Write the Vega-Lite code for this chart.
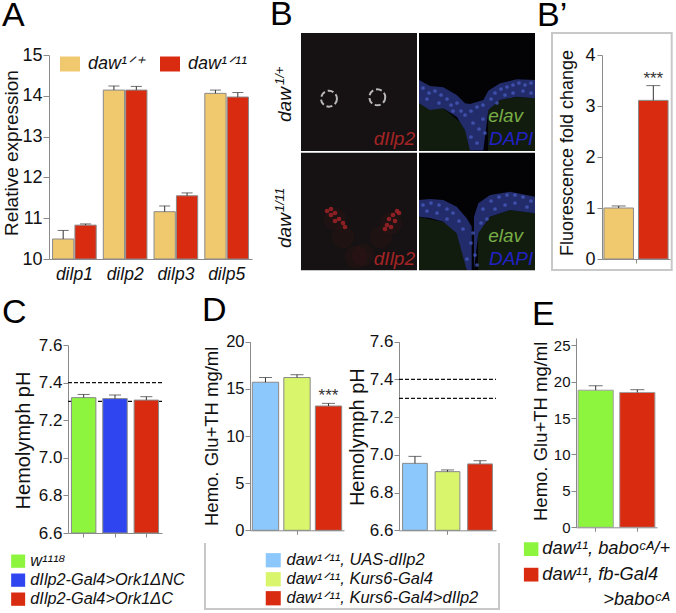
{
"$schema":"https://vega.github.io/schema/vega-lite/v6.json",
"autosize":{"type":"none"},
"padding":{"left":49,"top":33,"right":627,"bottom":580},
"background":"white",
"config":{"font":"Liberation Sans","view":{"stroke":null},
"axis":{"grid":false,"labelOverlap":false,"domainColor":"#8a8a8a","tickColor":"#8a8a8a","labelColor":"#111111","titleColor":"#111111","titleFontWeight":"normal","labelFont":"Liberation Sans","titleFont":"Liberation Sans","titleAngle":270,"titleAlign":"center","titleBaseline":"middle"},
"title":{"anchor":"start","frame":"group","fontSize":34,"fontWeight":"normal","font":"Liberation Sans","color":"#000000"},
"legend":{"orient":"none","title":null,"padding":0,"labelFont":"Liberation Sans","labelFontStyle":"italic","labelColor":"#111111","symbolStrokeWidth":0}},
"bounds":"flush","spacing":0,"align":"none","columns":4,
"resolve":{"scale":{"color":"independent","xOffset":"independent"},"legend":{"color":"independent"}},
"concat":[
{"title":{"text":"A","dx":-47,"offset":0},"width":201,"height":305,
"data":{"values":[
{"gene":"dilp1","genotype":"daw¹ᐟ⁺","value":10.49,"err":10.70},{"gene":"dilp1","genotype":"daw¹ᐟ¹¹","value":10.83,"err":10.86},
{"gene":"dilp2","genotype":"daw¹ᐟ⁺","value":14.14,"err":14.24},{"gene":"dilp2","genotype":"daw¹ᐟ¹¹","value":14.14,"err":14.23},
{"gene":"dilp3","genotype":"daw¹ᐟ⁺","value":11.16,"err":11.30},{"gene":"dilp3","genotype":"daw¹ᐟ¹¹","value":11.55,"err":11.62},
{"gene":"dilp5","genotype":"daw¹ᐟ⁺","value":14.06,"err":14.14},{"gene":"dilp5","genotype":"daw¹ᐟ¹¹","value":13.97,"err":14.08}]},
"encoding":{"x":{"field":"gene","type":"nominal","scale":{"domain":["dilp1","dilp2","dilp3","dilp5"],"range":[0,203],"paddingInner":0.14,"paddingOuter":0.07},"axis":{"title":null,"offset":-79,"ticks":false,"labelAngle":0,"labelFontSize":17.5,"labelFontStyle":"italic","labelPadding":6}},
"xOffset":{"field":"genotype","scale":{"domain":["daw¹ᐟ⁺","daw¹ᐟ¹¹"],"paddingInner":0.05}}},
"layer":[
{"mark":{"type":"bar","stroke":"#8a8a8a","strokeWidth":1},"encoding":{"y":{"field":"value","type":"quantitative","scale":{"domain":[10,15],"range":[226,22]},"axis":{"values":[10,11,12,13,14,15],"tickCount":10,"format":"d","title":"Relative expression","titleFontSize":19,"labelFontSize":18,"tickSize":6,"titleX":-38,"titleY":119.5,"labelPadding":1}},"y2":{"datum":10},
"color":{"field":"genotype","type":"nominal","scale":{"domain":["daw¹ᐟ⁺","daw¹ᐟ¹¹"],"range":["#F0C86E","#D92B10"]},"legend":{"legendX":11,"legendY":21,"direction":"horizontal","columns":2,"columnPadding":14,"symbolType":"M-1,-0.75H1V0.75H-1Z","symbolSize":400,"labelFontSize":18,"labelOffset":8}}}},
{"mark":{"type":"rule","color":"#333333"},"encoding":{"y":{"field":"value","type":"quantitative"},"y2":{"field":"err"}}},
{"mark":{"type":"tick","color":"#333333","size":11,"thickness":1},"encoding":{"y":{"field":"err","type":"quantitative"}}}
]},
{"title":{"text":"B","dx":20,"offset":0},"width":149,"height":305,
"encoding":{"x":{"field":"x","type":"quantitative","scale":{"domain":[-51,98],"range":[0,149]},"axis":null},"y":{"field":"y","type":"quantitative","scale":{"domain":[0,305],"range":[0,305]},"axis":null}},
"layer":[
{"data":{"values":[{"x":0,"x2":116,"y":0,"y2":118},{"x":0,"x2":116,"y":119.7,"y2":237.3}]},"mark":{"type":"rect","color":"#161213"},"encoding":{"x2":{"field":"x2"},"y2":{"field":"y2"}}},
{"data":{"values":[{"x":118,"x2":234,"y":0,"y2":118},{"x":118,"x2":234,"y":119.7,"y2":237.3}]},"mark":{"type":"rect","color":"#030306"},"encoding":{"x2":{"field":"x2"},"y2":{"field":"y2"}}},
{"data":{"values":[{"r":"a","x":118,"y":70,"y2":118},{"r":"a","x":142,"y":75,"y2":118},{"r":"a","x":160,"y":90,"y2":118},{"r":"a","x":169,"y":100,"y2":118},
{"r":"b","x":187,"y":77,"y2":118},{"r":"b","x":199,"y":67,"y2":118},{"r":"b","x":216,"y":64,"y2":118},{"r":"b","x":234,"y":65,"y2":118},
{"r":"c","x":118,"y":184,"y2":237},{"r":"c","x":142,"y":189,"y2":237},{"r":"c","x":165,"y":200,"y2":237},
{"r":"d","x":177,"y":200,"y2":237},{"r":"d","x":189,"y":184,"y2":237},{"r":"d","x":209,"y":177,"y2":237},{"r":"d","x":234,"y":180,"y2":237}]},
"mark":{"type":"area","color":"#111c0e"},"encoding":{"detail":{"field":"r"},"y2":{"field":"y2"}}},
{"data":{"values":[{"r":"a","x":118,"y":47,"y2":70.3},{"r":"a","x":129,"y":53,"y2":77},{"r":"a","x":142.3,"y":54.3,"y2":75.3},{"r":"a","x":155.7,"y":62,"y2":83.7},{"r":"a","x":164,"y":70.3,"y2":97},{"r":"a","x":169,"y":71,"y2":117.5},{"r":"a","x":182.3,"y":67,"y2":117.5},{"r":"a","x":187.3,"y":57.7,"y2":77},{"r":"a","x":199,"y":50.3,"y2":67},{"r":"a","x":215.7,"y":46.3,"y2":63.7},{"r":"a","x":234,"y":47,"y2":65.3},
{"r":"c","x":118,"y":167,"y2":183.7},{"r":"c","x":129,"y":166,"y2":185},{"r":"c","x":142.3,"y":167,"y2":188.7},{"r":"c","x":155.7,"y":173.7,"y2":200.3},{"r":"c","x":165.7,"y":185.3,"y2":237},{"r":"c","x":170.7,"y":193.7,"y2":237},
{"r":"d","x":173,"y":183.7,"y2":237},{"r":"d","x":177.3,"y":170.3,"y2":200.3},{"r":"d","x":189,"y":162,"y2":183.7},{"r":"d","x":209,"y":158.7,"y2":177},{"r":"d","x":234,"y":163.7,"y2":180.3}]},
"mark":{"type":"area","color":"#222c6a"},"encoding":{"detail":{"field":"r"},"y2":{"field":"y2"}}},
{"data":{"values":[{"x":122,"y":55},{"x":128,"y":60},{"x":134,"y":58},{"x":126,"y":66},{"x":140,"y":62},{"x":146,"y":66},{"x":138,"y":70},{"x":150,"y":72},{"x":156,"y":70},{"x":160,"y":78},{"x":152,"y":78},{"x":164,"y":82},{"x":170,"y":78},{"x":176,"y":74},{"x":182,"y":72},{"x":172,"y":90},{"x":178,"y":96},{"x":170,"y":104},{"x":176,"y":110},{"x":184,"y":100},{"x":182,"y":86},{"x":190,"y":66},{"x":194,"y":60},{"x":200,"y":56},{"x":206,"y":54},{"x":212,"y":52},{"x":218,"y":50},{"x":224,"y":52},{"x":230,"y":50},{"x":204,"y":62},{"x":212,"y":60},{"x":222,"y":58},{"x":230,"y":60},{"x":196,"y":70},
{"x":122,"y":172},{"x":130,"y":170},{"x":138,"y":172},{"x":126,"y":178},{"x":136,"y":180},{"x":146,"y":176},{"x":152,"y":180},{"x":146,"y":186},{"x":158,"y":188},{"x":162,"y":196},{"x":170,"y":210},{"x":174,"y":222},{"x":166,"y":226},{"x":176,"y":232},{"x":172,"y":200},{"x":182,"y":176},{"x":190,"y":168},{"x":198,"y":164},{"x":206,"y":162},{"x":214,"y":162},{"x":222,"y":164},{"x":230,"y":168},{"x":194,"y":176},{"x":204,"y":172},{"x":214,"y":170},{"x":226,"y":174},{"x":186,"y":186},{"x":180,"y":190}]},
"mark":{"type":"circle","color":"#4b5fc8","size":14,"opacity":0.7}},
{"data":{"values":[{"x":34,"y":186},{"x":90,"y":190},{"x":42,"y":204},{"x":80,"y":204},{"x":55,"y":224},{"x":62,"y":222}]},"mark":{"type":"circle","color":"#b01c1c","size":500,"opacity":0.06}},
{"data":{"values":[{"x":26,"y":178},{"x":30,"y":182},{"x":34,"y":180},{"x":38,"y":186},{"x":34,"y":188},{"x":42,"y":190},{"x":30,"y":176},{"x":44,"y":194},{"x":96,"y":178},{"x":92,"y":182},{"x":88,"y":186},{"x":94,"y":188},{"x":86,"y":192},{"x":84,"y":196},{"x":90,"y":194},{"x":98,"y":180}]},"mark":{"type":"circle","color":"#b0242a","size":22,"opacity":0.75}},
{"data":{"values":[{"x":28,"y":65.7},{"x":76.3,"y":64.3}]},"mark":{"type":"point","color":"#ffffff","size":254,"strokeWidth":2,"strokeDash":[6,3]}},
{"data":{"values":[{"x":114,"y":112,"t":"dIlp2"},{"x":114,"y":232,"t":"dIlp2"}]},"mark":{"type":"text","color":"#a52424","fontSize":19,"fontStyle":"italic","align":"right","baseline":"alphabetic"},"encoding":{"text":{"field":"t"}}},
{"data":{"values":[{"x":222,"y":88.7,"t":"elav"},{"x":222,"y":208.7,"t":"elav"}]},"mark":{"type":"text","color":"#79ad48","fontSize":19,"fontStyle":"italic","align":"right","baseline":"alphabetic"},"encoding":{"text":{"field":"t"}}},
{"data":{"values":[{"x":232.3,"y":112,"t":"DAPI"},{"x":232.3,"y":232,"t":"DAPI"}]},"mark":{"type":"text","color":"#2222c4","fontSize":19,"fontStyle":"italic","align":"right","baseline":"alphabetic"},"encoding":{"text":{"field":"t"}}},
{"data":{"values":[{"x":-10,"y":89,"t":"daw"},{"x":-10,"y":215,"t":"daw"}]},"mark":{"type":"text","color":"#111111","fontSize":19,"fontStyle":"italic","align":"left","baseline":"alphabetic","angle":270},"encoding":{"text":{"field":"t"}}},
{"data":{"values":[{"x":-17,"y":52,"t":"1/+"},{"x":-17,"y":179,"t":"1/11"}]},"mark":{"type":"text","color":"#111111","fontSize":13,"fontStyle":"italic","align":"left","baseline":"alphabetic","angle":270},"encoding":{"text":{"field":"t"}}},
{"data":{"values":[{"x":251,"x2":370.7,"y":0,"y2":237}]},"mark":{"type":"rect","fillOpacity":0,"stroke":"#c8c8c8","strokeWidth":2},"encoding":{"x2":{"field":"x2"},"y2":{"field":"y2"}}},
{"data":{"values":[{"i":1,"x":-96,"y":510},{"i":2,"x":-96,"y":576},{"i":3,"x":198,"y":576},{"i":4,"x":198,"y":510}]},"mark":{"type":"line","color":"#c8c8c8","strokeWidth":2},"encoding":{"order":{"field":"i"}}}
]},
{"width":177,"height":305,"data":{"values":[]},"mark":{"type":"point"},"encoding":{}},
{"title":{"text":"B’","dx":-39,"offset":0},"width":100,"height":305,
"data":{"values":[{"group":"g","sample":"daw¹ᐟ⁺","value":1.0,"err":1.04},{"group":"g","sample":"daw¹ᐟ¹¹","value":3.11,"err":3.40,"sig":"***"}]},
"encoding":{"x":{"field":"group","type":"nominal","scale":{"range":[26,94],"paddingInner":0,"paddingOuter":0.03},"axis":{"title":null,"offset":-79,"labels":false,"tickSize":4}},
"xOffset":{"field":"sample","scale":{"domain":["daw¹ᐟ⁺","daw¹ᐟ¹¹"],"paddingInner":0.147}}},
"layer":[
{"mark":{"type":"bar","stroke":"#8a8a8a","strokeWidth":1},"encoding":{"y":{"field":"value","type":"quantitative","scale":{"domain":[0,4],"range":[226,22]},"axis":{"values":[0,1,2,3,4],"tickCount":10,"format":"d","offset":-26,"title":"Fluorescence fold change","titleFontSize":18,"labelFontSize":18,"tickSize":5,"titleX":-35,"titleY":119.5,"labelPadding":2}},"y2":{"datum":0},
"color":{"field":"sample","type":"nominal","scale":{"domain":["daw¹ᐟ⁺","daw¹ᐟ¹¹"],"range":["#F0C86E","#D92B10"]},"legend":null}}},
{"mark":{"type":"rule","color":"#333333"},"encoding":{"y":{"field":"value","type":"quantitative"},"y2":{"field":"err"}}},
{"mark":{"type":"tick","color":"#333333","size":14,"thickness":1},"encoding":{"y":{"field":"err","type":"quantitative"}}},
{"transform":[{"filter":"datum.sig"}],"mark":{"type":"text","fontSize":17,"color":"#333333","dy":-7},"encoding":{"y":{"field":"err","type":"quantitative"},"text":{"field":"sig"}}}
]},
{"title":{"text":"C","dx":-47,"offset":6},"width":201,"height":195,
"layer":[
{"data":{"values":[{"level":7.4},{"level":7.3}]},"mark":{"type":"rule","color":"#111111","strokeDash":[4,2],"strokeWidth":1.2},"encoding":{"x":{"datum":0,"type":"quantitative","scale":{"domain":[0,1],"range":[19,114]},"axis":null},"x2":{"datum":1},"y":{"field":"level","type":"quantitative","scale":{"domain":[6.6,7.6],"range":[195,7]}}}},
{"data":{"values":[{"g":"w¹¹¹⁸","value":7.32,"err":7.337},{"g":"dIlp2-Gal4>Ork1ΔNC","value":7.315,"err":7.334},{"g":"dIlp2-Gal4>Ork1ΔC","value":7.307,"err":7.325}]},
"encoding":{"x":{"field":"g","type":"nominal","scale":{"domain":["w¹¹¹⁸","dIlp2-Gal4>Ork1ΔNC","dIlp2-Gal4>Ork1ΔC"],"range":[19,113],"paddingInner":0.22,"paddingOuter":0.11},"axis":{"title":null,"labels":false,"tickSize":4}}},
"layer":[
{"mark":{"type":"bar","stroke":"#8a8a8a","strokeWidth":1},"encoding":{"y":{"field":"value","type":"quantitative","scale":{"domain":[6.6,7.6],"range":[195,7]},"axis":{"values":[6.6,6.8,7.0,7.2,7.4,7.6],"tickCount":10,"format":".1f","offset":-19,"title":"Hemolymph pH","titleFontSize":20,"labelFontSize":17,"tickSize":5,"titleX":-45,"titleY":102,"labelPadding":1}},"y2":{"datum":6.6},
"color":{"field":"g","type":"nominal","scale":{"domain":["w¹¹¹⁸","dIlp2-Gal4>Ork1ΔNC","dIlp2-Gal4>Ork1ΔC"],"range":["#8EF53E","#2E45F0","#D92B10"]},"legend":{"legendX":-39,"legendY":215,"symbolType":"M-1,-0.95H1V0.95H-1Z","symbolSize":196,"labelFontSize":16.3,"labelOffset":4,"rowPadding":2,"labelLimit":300}}}},
{"mark":{"type":"rule","color":"#333333"},"encoding":{"y":{"field":"value","type":"quantitative"},"y2":{"field":"err"}}},
{"mark":{"type":"tick","color":"#333333","size":12,"thickness":1},"encoding":{"y":{"field":"err","type":"quantitative"}}}
]}
],"resolve":{"scale":{"x":"independent"}}},
{"title":{"text":"D","dx":-48,"offset":6},"width":149,"height":195,
"data":{"values":[{"group":"g","sample":"daw¹ᐟ¹¹, UAS-dIlp2","value":15.7,"err":16.2},{"group":"g","sample":"daw¹ᐟ¹¹, Kurs6-Gal4","value":16.2,"err":16.5},{"group":"g","sample":"daw¹ᐟ¹¹, Kurs6-Gal4>dIlp2","value":13.18,"err":13.46,"sig":"***"}]},
"encoding":{"x":{"field":"group","type":"nominal","scale":{"range":[0,94],"paddingInner":0,"paddingOuter":0.026},"axis":{"title":null,"offset":-2.7,"labels":false,"tickSize":4}},
"xOffset":{"field":"sample","scale":{"domain":["daw¹ᐟ¹¹, UAS-dIlp2","daw¹ᐟ¹¹, Kurs6-Gal4","daw¹ᐟ¹¹, Kurs6-Gal4>dIlp2"],"paddingInner":0.165}}},
"layer":[
{"mark":{"type":"bar","stroke":"#8a8a8a","strokeWidth":1},"encoding":{"y":{"field":"value","type":"quantitative","scale":{"domain":[0,20],"range":[192.3,3.7]},"axis":{"values":[0,5,10,15,20],"tickCount":10,"format":"d","title":"Hemo. Glu+TH mg/ml","titleFontSize":18.5,"labelFontSize":16.5,"tickSize":5,"titleX":-39,"titleY":97.8,"labelPadding":1}},"y2":{"datum":0},
"color":{"field":"sample","type":"nominal","scale":{"domain":["daw¹ᐟ¹¹, UAS-dIlp2","daw¹ᐟ¹¹, Kurs6-Gal4","daw¹ᐟ¹¹, Kurs6-Gal4>dIlp2"],"range":["#8CC8FB","#D8F56B","#D92B10"]},"legend":{"legendX":15,"legendY":214,"symbolType":"M-1,-0.95H1V0.95H-1Z","symbolSize":225,"labelFontSize":16.5,"labelOffset":5,"rowPadding":2,"labelLimit":300}}}},
{"mark":{"type":"rule","color":"#333333"},"encoding":{"y":{"field":"value","type":"quantitative"},"y2":{"field":"err"}}},
{"mark":{"type":"tick","color":"#333333","size":13,"thickness":1},"encoding":{"y":{"field":"err","type":"quantitative"}}},
{"transform":[{"filter":"datum.sig"}],"mark":{"type":"text","fontSize":17,"color":"#333333","dy":-7},"encoding":{"y":{"field":"err","type":"quantitative"},"text":{"field":"sig"}}}
]},
{"width":177,"height":195,
"layer":[
{"data":{"values":[{"level":7.4},{"level":7.3}]},"mark":{"type":"rule","color":"#111111","strokeDash":[4,2],"strokeWidth":1.2},"encoding":{"x":{"datum":0,"type":"quantitative","scale":{"domain":[0,1],"range":[0,97]},"axis":null},"x2":{"datum":1},"y":{"field":"level","type":"quantitative","scale":{"domain":[6.6,7.6],"range":[192.3,3.7]}}}},
{"data":{"values":[{"group":"g","sample":"a","value":6.955,"err":6.992},{"group":"g","sample":"b","value":6.911,"err":6.92},{"group":"g","sample":"c","value":6.952,"err":6.969}]},
"encoding":{"x":{"field":"group","type":"nominal","scale":{"range":[0,97],"paddingInner":0,"paddingOuter":0.04},"axis":{"title":null,"offset":-2.7,"labels":false,"tickSize":4}},
"xOffset":{"field":"sample","scale":{"domain":["a","b","c"],"paddingInner":0.24}}},
"layer":[
{"mark":{"type":"bar","stroke":"#8a8a8a","strokeWidth":1},"encoding":{"y":{"field":"value","type":"quantitative","scale":{"domain":[6.6,7.6],"range":[192.3,3.7]},"axis":{"values":[6.6,6.8,7.0,7.2,7.4,7.6],"tickCount":10,"format":".1f","title":"Hemolymph pH","titleFontSize":20,"labelFontSize":17,"tickSize":5,"titleX":-42,"titleY":98.7,"labelPadding":1}},"y2":{"datum":6.6},
"color":{"field":"sample","type":"nominal","scale":{"domain":["a","b","c"],"range":["#8CC8FB","#D8F56B","#D92B10"]},"legend":null}}},
{"mark":{"type":"rule","color":"#333333"},"encoding":{"y":{"field":"value","type":"quantitative"},"y2":{"field":"err"}}},
{"mark":{"type":"tick","color":"#333333","size":13,"thickness":1},"encoding":{"y":{"field":"err","type":"quantitative"}}}
]}
],"resolve":{"scale":{"x":"independent"}}},
{"title":{"text":"E","dx":-44,"offset":6},"width":100,"height":195,
"data":{"values":[{"g":"daw¹¹, baboᶜᴬ/+","value":18.83,"err":19.44},{"g":"daw¹¹, fb-Gal4","value":18.52,"err":18.9}]},
"encoding":{"x":{"field":"g","type":"nominal","scale":{"domain":["daw¹¹, baboᶜᴬ/+","daw¹¹, fb-Gal4"],"range":[0,81],"paddingInner":0.155,"paddingOuter":0.05},"axis":{"title":null,"offset":-5.7,"labels":false,"tickSize":4}}},
"layer":[
{"mark":{"type":"bar","stroke":"#a0a0a0","strokeWidth":1},"encoding":{"y":{"field":"value","type":"quantitative","scale":{"domain":[0,25],"range":[189.3,0]},"axis":{"values":[0,5,10,15,20,25],"tickCount":10,"format":"d","title":"Hemo. Glu+TH mg/ml","titleFontSize":18.5,"labelFontSize":15,"tickSize":5,"titleX":-36,"titleY":92.8,"labelPadding":1}},"y2":{"datum":0},
"color":{"field":"g","type":"nominal","scale":{"domain":["daw¹¹, baboᶜᴬ/+","daw¹¹, fb-Gal4","\u200b\u00a0\u00a0\u00a0\u00a0\u00a0\u00a0\u00a0\u00a0\u00a0\u00a0\u00a0\u00a0>baboᶜᴬ"],"range":["#8EF53E","#D92B10","transparent"]},"legend":{"legendX":-54,"legendY":202,"symbolType":"M-1,-0.95H1V0.95H-1Z","symbolSize":210,"labelFontSize":18.3,"labelOffset":2,"rowPadding":6.5}}}},
{"mark":{"type":"rule","color":"#333333"},"encoding":{"y":{"field":"value","type":"quantitative"},"y2":{"field":"err"}}},
{"mark":{"type":"tick","color":"#333333","size":14,"thickness":1},"encoding":{"y":{"field":"err","type":"quantitative"}}}
]}
]}
